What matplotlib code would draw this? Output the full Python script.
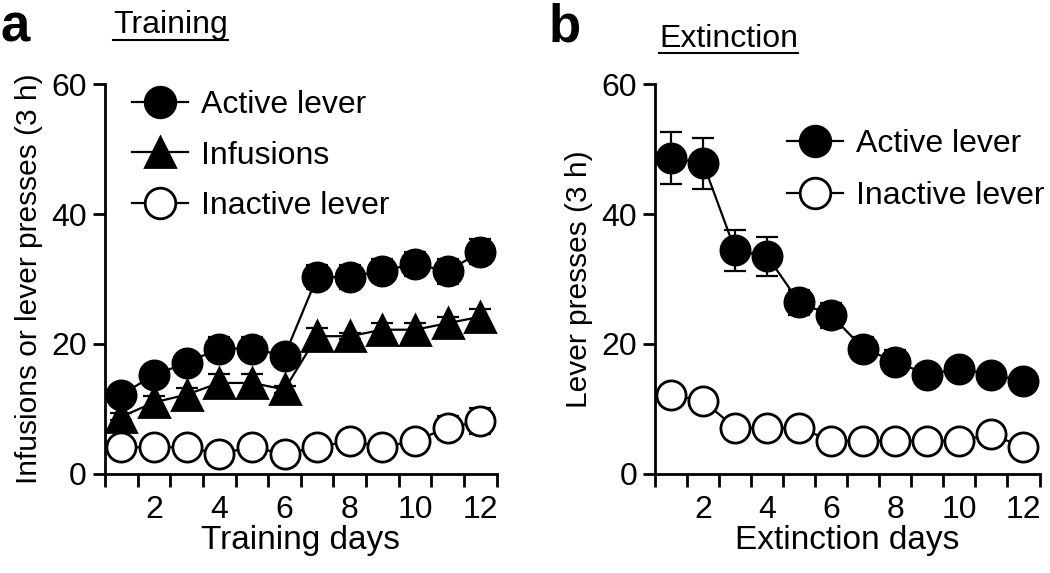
import numpy as np
import matplotlib
matplotlib.use("Agg")
import matplotlib.pyplot as plt
from matplotlib.lines import Line2D

plt.rcParams['font.family'] = ['Liberation Sans', 'DejaVu Sans']

days = np.arange(1, 13)
day_ticks = [2, 4, 6, 8, 10, 12]

# training
train_active = [12.2, 15.2, 17.1, 19.3, 19.3, 18.2, 30.3, 30.3, 31.3, 32.3, 31.2, 34.2]
train_active_err = [0.8, 0.8, 0.8, 1.8, 1.8, 0.8, 1.9, 1.8, 1.8, 1.8, 1.9, 1.9]
train_inf = [8.8, 11.0, 12.2, 14.0, 14.0, 13.0, 21.2, 21.2, 22.2, 22.2, 23.2, 24.2]
train_inf_err = [0.5, 1.0, 1.0, 1.4, 1.4, 0.6, 1.2, 0.5, 1.0, 1.0, 1.0, 1.2]
train_inactive = [4.1, 4.1, 4.1, 3.1, 4.1, 3.1, 4.1, 5.1, 4.1, 5.1, 7.1, 8.1]
train_inactive_err = [0.4, 0.4, 0.4, 0.4, 0.4, 0.4, 0.5, 0.5, 0.5, 0.8, 1.8, 2.0]

# extinction
ext_active = [48.7, 47.8, 34.4, 33.5, 26.4, 24.4, 19.3, 17.3, 15.3, 16.2, 15.3, 14.3]
ext_active_err = [4.0, 3.9, 3.1, 3.0, 1.9, 1.9, 1.7, 1.8, 0.6, 0.6, 0.6, 0.6]
ext_inactive = [12.2, 11.2, 7.1, 7.1, 7.1, 5.1, 5.1, 5.1, 5.1, 5.1, 6.1, 4.1]
ext_inactive_err = [0.4, 0.4, 0.4, 0.4, 0.4, 0.4, 0.4, 0.4, 0.4, 0.4, 0.4, 0.4]

fig = plt.figure(figsize=(10.5, 5.73), dpi=100)
ax_a = fig.add_axes([0.1, 0.173, 0.373, 0.68])
ax_b = fig.add_axes([0.624, 0.173, 0.366, 0.68])

MS = 21
LW = 1.6


def series(ax, y, err, marker, face, label):
    ax.errorbar(days, y, yerr=err, fmt='none', ecolor='black', elinewidth=LW,
                capsize=8, capthick=LW, zorder=2)
    ax.plot(days, y, color='black', lw=LW, marker=marker, ms=MS,
            mfc=face, mec='black', mew=2, label=label, zorder=3, clip_on=False)


def style(ax, xlabel, ylabel):
    ax.set_xlim(0.5, 12.5)
    ax.set_ylim(0, 60)
    for s in ['top', 'right']:
        ax.spines[s].set_visible(False)
    for s in ['left', 'bottom']:
        ax.spines[s].set_linewidth(2)
    ax.set_xticks(np.arange(0.5, 13, 1))
    ax.set_xticklabels([])
    ax.set_xticks(day_ticks, minor=True)
    ax.set_xticklabels([str(d) for d in day_ticks], minor=True)
    ax.tick_params(axis='x', which='major', length=9, width=2)
    ax.tick_params(axis='x', which='minor', length=0, labelsize=23, pad=15)
    ax.set_yticks([0, 20, 40, 60])
    ax.tick_params(axis='y', length=9, width=2, labelsize=23, pad=4)
    ax.set_xlabel(xlabel, fontsize=24, labelpad=0)
    ax.set_ylabel(ylabel, fontsize=21.5, labelpad=6)


def legend(ax, x, y, spacing):
    ax.legend(loc='upper left', bbox_to_anchor=(x, y), frameon=False,
              borderpad=0, borderaxespad=0, fontsize=23, handlelength=1.75,
              handletextpad=0.4, labelspacing=spacing, markerscale=1.05)


series(ax_a, train_active, train_active_err, 'o', 'black', 'Active lever')
series(ax_a, train_inf, train_inf_err, '^', 'black', 'Infusions')
series(ax_a, train_inactive, train_inactive_err, 'o', 'white', 'Inactive lever')
style(ax_a, 'Training days', 'Infusions or lever presses (3 h)')
legend(ax_a, 0.069, 0.985, 0.64)

series(ax_b, ext_active, ext_active_err, 'o', 'black', 'Active lever')
series(ax_b, ext_inactive, ext_inactive_err, 'o', 'white', 'Inactive lever')
style(ax_b, 'Extinction days', 'Lever presses (3 h)')
legend(ax_b, 0.343, 0.885, 0.7)

fig.text(0.0, 0.995, 'a', fontsize=38, fontweight='bold', va='top')
fig.text(0.522, 0.995, 'b', fontsize=38, fontweight='bold', va='top')
ta = fig.text(0.108, 0.942, 'Training', fontsize=23)
tb = fig.text(0.628, 0.918, 'Extinction', fontsize=23)

fig.canvas.draw()
r = fig.canvas.get_renderer()
for t in (ta, tb):
    bb = t.get_window_extent(r).transformed(fig.transFigure.inverted())
    fig.add_artist(Line2D([bb.x0, bb.x1], [bb.y0 + 0.001, bb.y0 + 0.001],
                          transform=fig.transFigure, color='black', lw=1.5))

fig.savefig('out.png', dpi=100)
